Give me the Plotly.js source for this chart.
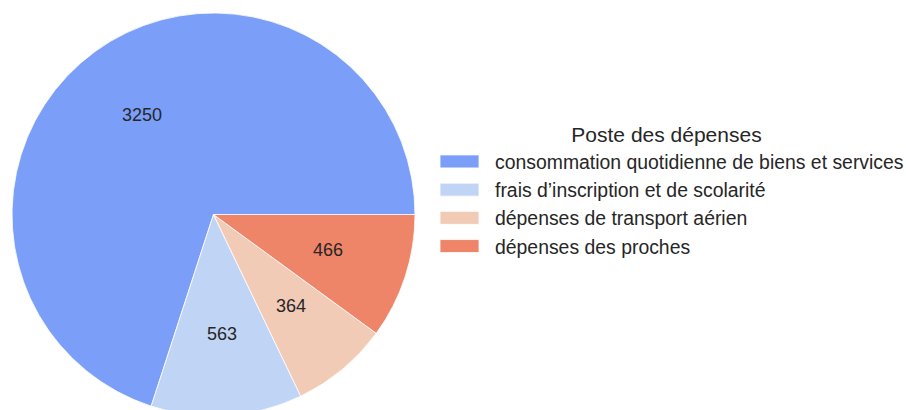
<!DOCTYPE html>
<html><head><meta charset="utf-8">
<script src="https://cdn.plot.ly/plotly-3.0.1.min.js"></script>
<style>html,body{margin:0;padding:0;overflow:hidden;background:#fff}#chart{width:906px;height:430px}</style>
</head><body><div id="chart"></div>
<script>
const categories = ["consommation quotidienne de biens et services", "frais d\u2019inscription et de scolarit\u00e9", "d\u00e9penses de transport a\u00e9rien", "d\u00e9penses des proches"];
const values = [3250, 563, 364, 466];
const colors = ["#7B9FF9", "#C0D4F5", "#F2CBB7", "#EE8468"];
const legendTitle = "Poste des d\u00e9penses";

const W = 906, H = 430;
const pieLeft = 12, pieRight = 415, pieTop = 13, pieBottom = 416;
const font = "Liberation Sans, Arial, sans-serif";
const txtColor = "#262626";
const labelLift = 1.5;

const total = values.reduce((a, b) => a + b, 0);
const cx = (pieLeft + pieRight) / 2, cy = (pieTop + pieBottom) / 2;
const R = Math.min(pieRight - pieLeft, pieBottom - pieTop) / 2;
let cum = 0;
const annotations = values.map(v => {
  const th = 2 * Math.PI * (cum + v / 2) / total;
  cum += v;
  const px = cx + 0.6 * R * Math.cos(th), py = cy - 0.6 * R * Math.sin(th) - labelLift;
  return {x: px / W, y: 1 - py / H, xref: "paper", yref: "paper", text: String(v), showarrow: false,
          xanchor: "center", yanchor: "middle", font: {family: font, size: 18, color: txtColor}};
});

// Plotly's counterclockwise pies end the first slice at `rotation`; start it at 3 o'clock instead
const rotation = 90 - 360 * values[0] / total;

const data = [{
  type: "pie", labels: categories, values: values, sort: false, direction: "counterclockwise", rotation: rotation,
  marker: {colors: colors, line: {color: "#ffffff", width: 0.8}},
  textinfo: "none", hoverinfo: "label+value",
  domain: {x: [pieLeft / W, pieRight / W], y: [1 - pieBottom / H, 1 - pieTop / H]}
}];

const layout = {
  width: W, height: H, margin: {l: 0, r: 0, t: 0, b: 0, autoexpand: false},
  paper_bgcolor: "#fff", plot_bgcolor: "#fff",
  showlegend: true,
  legend: {x: 424 / W, xanchor: "left", y: 1 - 115 / H, yanchor: "top", bgcolor: "rgba(0,0,0,0)",
           font: {family: font, size: 19.4, color: txtColor}, itemwidth: 61,
           title: {text: legendTitle, side: "top center", font: {family: font, size: 21, color: txtColor}}},
  annotations: annotations
};

Plotly.newPlot("chart", data, layout, {displayModeBar: false, staticPlot: true}).then(() => {
  document.querySelectorAll(".legend path.legendpie").forEach(p => {
    p.setAttribute("d", "M-19.5,-6.5h39v13h-39Z");
  });
});
</script></body></html>
